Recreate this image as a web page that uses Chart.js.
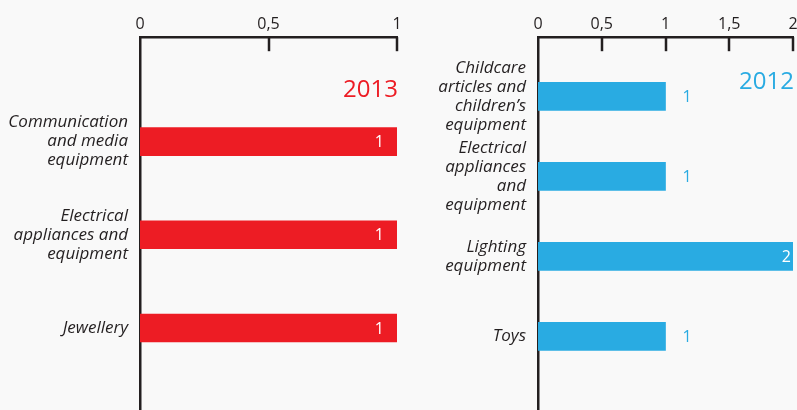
<!DOCTYPE html>
<html>
<head>
<meta charset="utf-8">
<script src="https://cdn.jsdelivr.net/npm/chart.js@4"></script>
<style>
  html, body { margin: 0; padding: 0; background: #f9f9f9; }
  #wrap { position: relative; width: 797px; height: 410px; }
  .box { position: absolute; top: 0; height: 410px; }
  #left { left: 0; width: 410px; }
  #right { left: 410px; width: 387px; }
</style>
</head>
<body>
<div id="wrap">
  <div class="box" id="left"><canvas id="c2013"></canvas></div>
  <div class="box" id="right"><canvas id="c2012"></canvas></div>
</div>
<script>
// data
const categories2013 = [
  ['Communication', 'and media', 'equipment'],
  ['Electrical', 'appliances and', 'equipment'],
  ['Jewellery'],
];
const values2013 = [1, 1, 1];
const xTicks2013 = [0, 0.5, 1];

const categories2012 = [
  ['Childcare', 'articles and', 'children’s', 'equipment'],
  ['Electrical', 'appliances', 'and', 'equipment'],
  ['Lighting', 'equipment'],
  ['Toys'],
];
const values2012 = [1, 1, 2, 1];
const xTicks2012 = [0, 0.5, 1, 1.5, 2];

const INK = '#231f20';
const FONT = '"Open Sans", "Noto Sans", sans-serif';

// inward tick marks on the top axis
const innerTicks = {
  id: 'innerTicks',
  afterDatasetsDraw(chart) {
    const x = chart.scales.x;
    const { ctx, chartArea } = chart;
    ctx.save();
    ctx.strokeStyle = INK;
    ctx.lineWidth = 2.5;
    x.ticks.forEach(t => {
      if (t.value === x.min) return;
      const px = Math.round(x.getPixelForValue(t.value));
      ctx.beginPath();
      ctx.moveTo(px, chartArea.top);
      ctx.lineTo(px, chartArea.top + 14);
      ctx.stroke();
    });
    ctx.restore();
  }
};

// value labels: inside (white) when the bar reaches the axis end, else outside
const barLabels = {
  id: 'barLabels',
  afterDatasetsDraw(chart, args, opts) {
    const { ctx } = chart;
    const meta = chart.getDatasetMeta(0);
    const ds = chart.data.datasets[0];
    const xMax = chart.scales.x.max;
    ctx.save();
    ctx.font = '16px ' + FONT;
    ctx.textBaseline = 'middle';
    meta.data.forEach((bar, i) => {
      const v = ds.data[i].x;
      const inside = v >= xMax;
      ctx.fillStyle = inside ? '#ffffff' : opts.color;
      ctx.textAlign = inside ? 'right' : 'left';
      ctx.fillText(String(v), inside ? bar.x - opts.inset : bar.x + 17, bar.y + 1);
    });
    ctx.restore();
  }
};

// year caption in the upper right of the plot
const yearCaption = {
  id: 'yearCaption',
  afterDatasetsDraw(chart, args, opts) {
    const { ctx, chartArea } = chart;
    ctx.save();
    ctx.font = '24px ' + FONT;
    ctx.fillStyle = opts.color;
    ctx.textAlign = 'right';
    ctx.textBaseline = 'middle';
    ctx.fillText(opts.text, chartArea.right + 1, opts.y);
    ctx.restore();
  }
};

function makeChart(id, cats, vals, xTicks, cfg) {
  const ctx = document.getElementById(id).getContext('2d');
  return new Chart(ctx, {
    type: 'bar',
    data: {
      datasets: [{
        data: vals.map((v, i) => ({ x: v, y: i })),
        backgroundColor: cfg.color,
        borderWidth: 0,
        barThickness: 28,
      }],
    },
    options: {
      indexAxis: 'y',
      responsive: true,
      maintainAspectRatio: false,
      animation: false,
      layout: { padding: { top: 12, right: cfg.padRight, bottom: 0, left: 0 } },
      plugins: {
        legend: { display: false },
        tooltip: { enabled: false },
        barLabels: { color: cfg.color, inset: cfg.inset },
        yearCaption: { text: cfg.year, color: cfg.color, y: cfg.yearY },
      },
      scales: {
        x: {
          type: 'linear',
          position: 'top',
          min: 0,
          max: xTicks[xTicks.length - 1],
          afterBuildTicks: (s) => { s.ticks = xTicks.map(v => ({ value: v })); },
          afterFit: (s) => { s.paddingLeft = 0; s.paddingRight = 0; },
          grid: { display: false, drawTicks: false },
          border: { display: true, color: INK, width: 2.5 },
          ticks: {
            padding: 3,
            color: INK,
            font: { family: FONT, size: 16 },
            maxRotation: 0,
            callback: (v) => String(v).replace('.', ','),
          },
        },
        y: {
          type: 'linear',
          reverse: true,
          offset: false,
          min: cfg.yMin,
          max: cfg.yMax,
          afterBuildTicks: (s) => { s.ticks = cats.map((_, i) => ({ value: i })); },
          afterFit: (s) => {
            s.width = cfg.axisWidth;
            s.paddingTop = 0;
            s.paddingBottom = 0;
          },
          grid: { display: false, drawTicks: false },
          border: { display: true, color: INK, width: 2.5 },
          ticks: {
            autoSkip: false,
            padding: 12,
            color: INK,
            font: { family: FONT, size: 17, style: 'italic', lineHeight: 1.12 },
            callback: (v) => cats[v],
          },
        },
      },
    },
    plugins: [innerTicks, barLabels, yearCaption],
  });
}

makeChart('c2013', categories2013, values2013, xTicks2013, {
  color: '#ed1c24', year: '2013', yearY: 90,
  yMin: -1.12, yMax: 2.88, axisWidth: 140, padRight: 13, inset: 13,
});
makeChart('c2012', categories2012, values2012, xTicks2012, {
  color: '#29abe2', year: '2012', yearY: 82,
  yMin: -0.74, yMax: 3.92, axisWidth: 128, padRight: 4, inset: 2,
});
</script>
</body>
</html>
